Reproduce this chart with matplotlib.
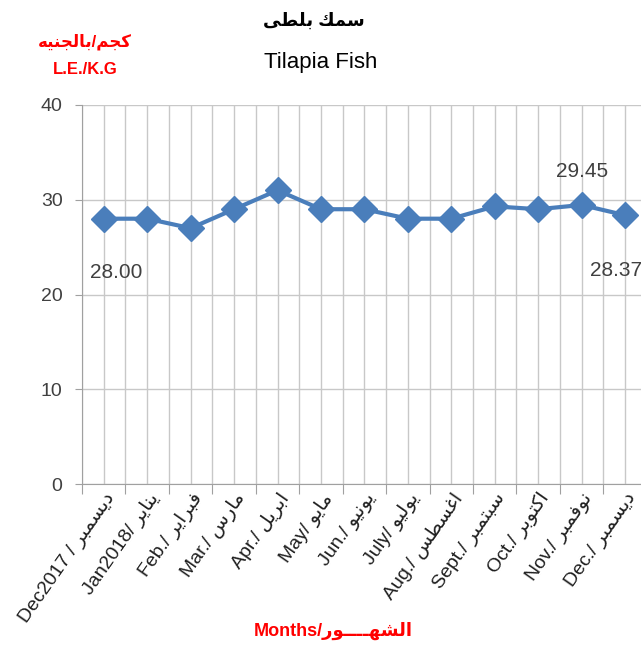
import re
import numpy as np
import matplotlib
matplotlib.use("Agg")
import matplotlib.pyplot as plt

plt.rcParams['font.family'] = ['Liberation Sans Narrow', 'Liberation Sans', 'DejaVu Sans']

# data
months = ["Dec2017 / ديسمبر", "Jan2018/ يناير", "Feb./ فبراير", "Mar./ مارس",
          "Apr./ ابريل", "May/ مايو", "Jun./ يونيو", "July/ يوليو",
          "Aug./ اغسطس", "Sept./ سبتمبر", "Oct./ اكتوبر", "Nov./ نوفمبر",
          "Dec./ ديسمبر"]
prices = [28.00, 28.0, 27.0, 29.0, 31.0, 29.0, 29.0, 28.0, 28.0, 29.3, 29.0, 29.45, 28.37]
y_ticks = [0, 10, 20, 30, 40]

# arabic letters -> (isolated, final, initial, medial); no shaping engine in matplotlib
FORMS = {
    'ا': ('\uFE8D', '\uFE8E', None, None),
    'ب': ('\uFE8F', '\uFE90', '\uFE91', '\uFE92'),
    'ت': ('\uFE95', '\uFE96', '\uFE97', '\uFE98'),
    'ج': ('\uFE9D', '\uFE9E', '\uFE9F', '\uFEA0'),
    'د': ('\uFEA9', '\uFEAA', None, None),
    'ر': ('\uFEAD', '\uFEAE', None, None),
    'س': ('\uFEB1', '\uFEB2', '\uFEB3', '\uFEB4'),
    'ش': ('\uFEB5', '\uFEB6', '\uFEB7', '\uFEB8'),
    'ط': ('\uFEC1', '\uFEC2', '\uFEC3', '\uFEC4'),
    'غ': ('\uFECD', '\uFECE', '\uFECF', '\uFED0'),
    'ف': ('\uFED1', '\uFED2', '\uFED3', '\uFED4'),
    'ك': ('\uFED9', '\uFEDA', '\uFEDB', '\uFEDC'),
    'ل': ('\uFEDD', '\uFEDE', '\uFEDF', '\uFEE0'),
    'م': ('\uFEE1', '\uFEE2', '\uFEE3', '\uFEE4'),
    'ن': ('\uFEE5', '\uFEE6', '\uFEE7', '\uFEE8'),
    'ه': ('\uFEE9', '\uFEEA', '\uFEEB', '\uFEEC'),
    'و': ('\uFEED', '\uFEEE', None, None),
    'ى': ('\uFEEF', '\uFEF0', '\uFBE8', '\uFBE9'),
    'ي': ('\uFEF1', '\uFEF2', '\uFEF3', '\uFEF4'),
    'ـ': ('\u0640', '\u0640', '\u0640', '\u0640'),
}


def shape(word):
    out = []
    for i, c in enumerate(word):
        if c not in FORMS:
            out.append(c)
            continue
        prev = word[i - 1] if i > 0 else None
        nxt = word[i + 1] if i + 1 < len(word) else None
        jp = prev in FORMS and FORMS[prev][2] is not None
        jn = nxt in FORMS and FORMS[c][2] is not None
        f = FORMS[c]
        if jp and jn:
            out.append(f[3])
        elif jp:
            out.append(f[1])
        elif jn:
            out.append(f[2])
        else:
            out.append(f[0])
    return ''.join(out)


def ar(s):
    return re.sub(r'[\u0600-\u06FF]+(?: [\u0600-\u06FF]+)*',
                  lambda m: shape(m.group())[::-1], s)


fig = plt.figure(figsize=(6.41, 6.48), dpi=100)
ax = fig.add_axes([0.128, 0.253, 0.881, 0.585])

x = np.arange(len(months))
ax.plot(x, prices, color='#4a7ebb', lw=3, marker='D', ms=13, zorder=3)

ax.set_xlim(-0.5, len(months) - 0.5)
ax.set_ylim(0, 40)
ax.set_yticks(y_ticks)
ax.tick_params(axis='y', labelsize=14, colors='#404040', length=5, color='#a0a0a0', pad=9)

ax.set_xticks(np.arange(-0.5, len(months), 1.0))
ax.set_xticklabels([])
ax.tick_params(axis='x', length=7, color='#a0a0a0')
ax.set_xticks(x, minor=True)
ax.set_xticklabels([ar(m) for m in months], minor=True, rotation=55,
                   ha='right', rotation_mode='anchor', fontsize=14, color='#202020')
ax.tick_params(axis='x', which='minor', length=0, pad=4)

ax.grid(True, which='both', axis='x', color='#c8c8c8', lw=1)
ax.grid(True, which='major', axis='y', color='#c8c8c8', lw=1)
ax.set_axisbelow(True)
for s in ['top', 'right']:
    ax.spines[s].set_visible(False)
for s in ['left', 'bottom']:
    ax.spines[s].set_color('#a0a0a0')

# data labels
ax.annotate('%.2f' % prices[0], (x[0], prices[0]), xytext=(-10, -43),
            textcoords='offset points', fontsize=15, color='#404040', ha='left')
ax.annotate('%.2f' % prices[11], (x[11], prices[11]), xytext=(0, 20),
            textcoords='offset points', fontsize=15, color='#404040', ha='center')
ax.annotate('%.2f' % prices[12], (x[12], prices[12]), xytext=(12, -44),
            textcoords='offset points', fontsize=15, color='#404040', ha='right')

fig.text(0.49, 0.968, ar('سمك بلطى'), ha='center', va='center',
         fontsize=13, fontweight='bold', color='black')
fig.text(0.5, 0.903, 'Tilapia Fish', ha='center', va='center',
         fontsize=16, color='black', family=['Liberation Sans', 'DejaVu Sans'])
fig.text(0.133, 0.935, ar('بالجنيه/كجم'), ha='center', va='center',
         fontsize=12, fontweight='bold', color='red')
fig.text(0.133, 0.892, 'L.E./K.G', ha='center', va='center',
         fontsize=12, fontweight='bold', color='red')
fig.text(0.52, 0.027, ar('Months/الشهــــور'), ha='center', va='center',
         fontsize=13, fontweight='bold', color='red')

fig.savefig('out.png', dpi=100)
